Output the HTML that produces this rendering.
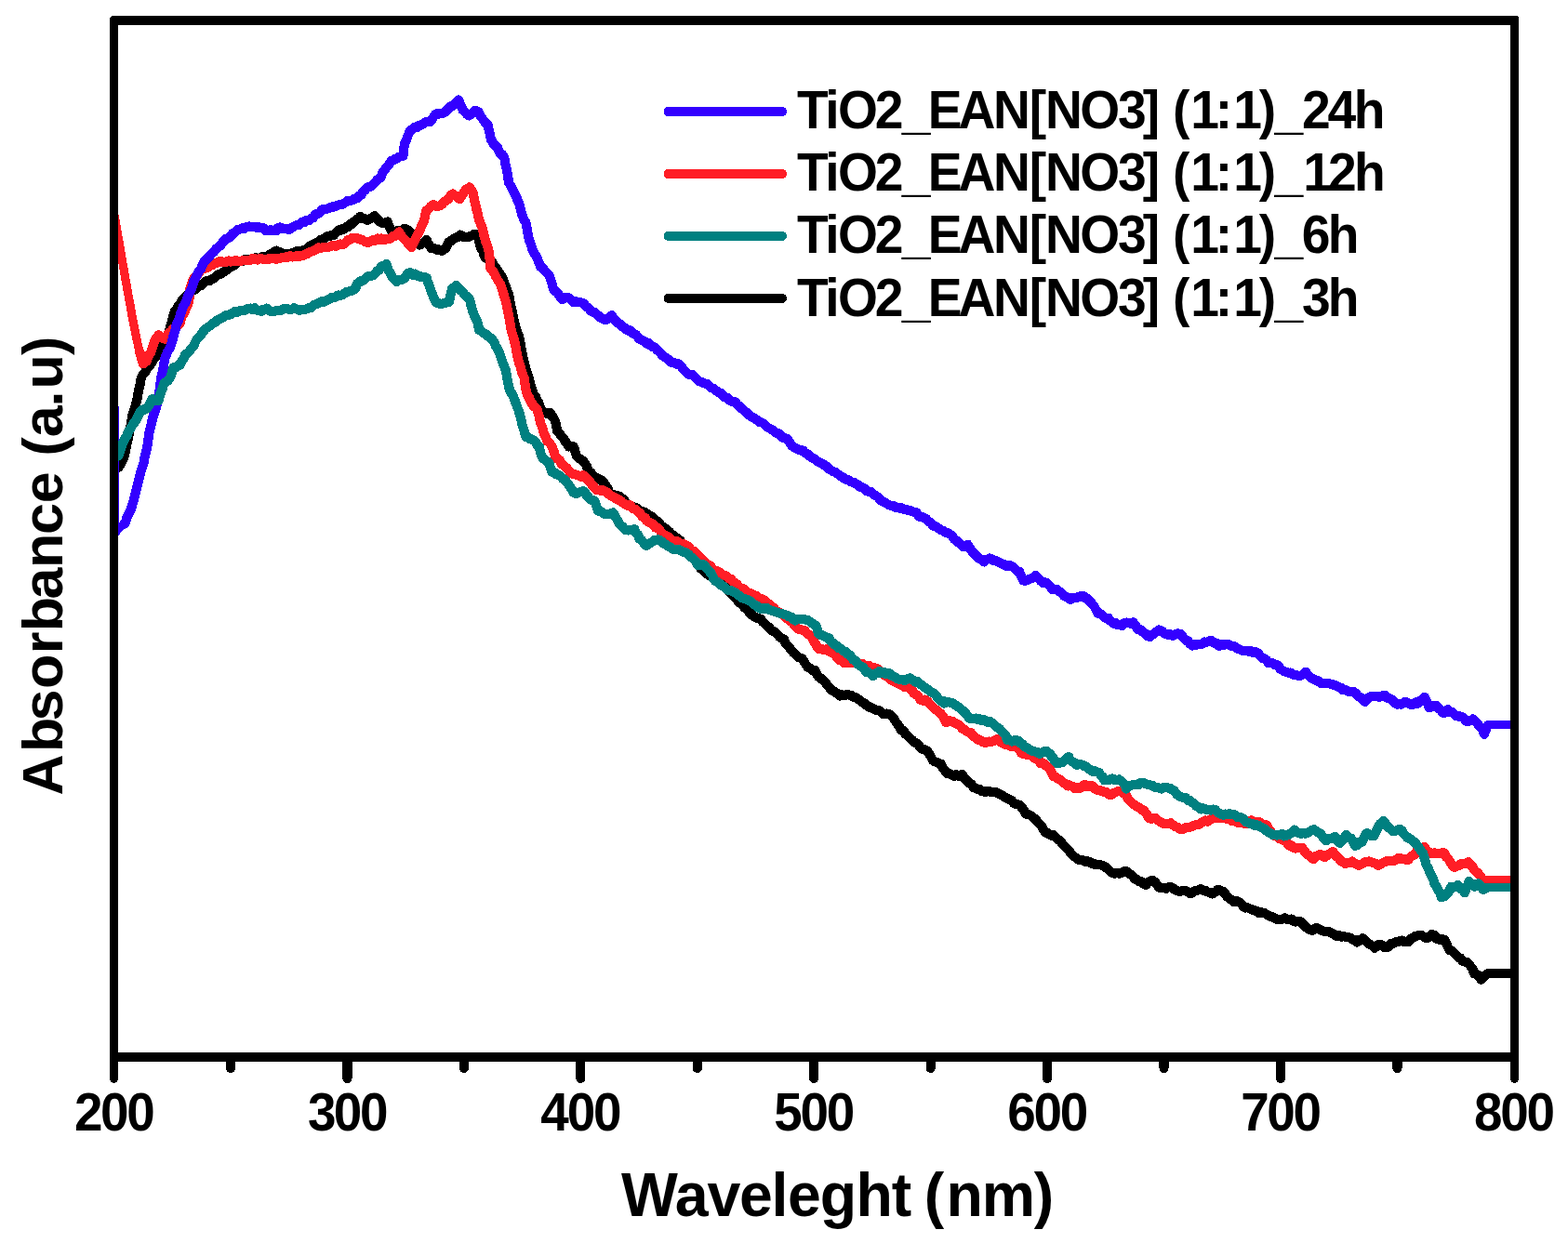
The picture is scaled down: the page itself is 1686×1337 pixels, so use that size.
<!DOCTYPE html>
<html lang="en"><head><meta charset="utf-8"><title>UV-Vis absorbance of TiO2_EAN[NO3] (1:1)</title>
<style>html,body{margin:0;padding:0;background:#fff}body{width:1686px;height:1337px;overflow:hidden}svg{display:block}text{white-space:pre;font-family:"Liberation Sans",sans-serif;font-weight:bold;font-size:100px;font-kerning:none}</style></head><body>
<svg width="1686" height="1337" viewBox="0 0 1686 1337">
<rect width="1686" height="1337" fill="#fff"/>
<defs><clipPath id="plot"><rect x="122" y="22" width="1507" height="1115"/></clipPath></defs>
<g clip-path="url(#plot)" shape-rendering="crispEdges"><g transform="scale(1.0,1)">
<polyline points="120.9,505.4 123.1,504.7 125.8,503.8 127.4,502.7 129.4,500.1 131.6,495.9 133.2,491.8 135.1,484.8 136.4,477.3 138.8,467.2 140.6,457.2 142.3,447.0 144.7,439.3 147.3,430.7 148.8,421.0 150.4,414.7 151.7,406.8 153.5,403.0 156.4,400.4 157.7,396.8 160.4,394.1 162.8,390.8 164.8,386.4 167.9,383.9 170.1,379.7 172.6,375.8 174.6,371.2 176.6,368.6 178.9,362.4 181.2,358.8 182.8,352.5 185.2,344.8 186.8,338.3 188.1,334.7 190.0,332.2 191.9,329.1 194.1,326.3 196.7,321.7 198.7,320.6 201.0,317.7 203.3,316.8 205.7,313.4 207.9,312.4 210.0,311.1 212.1,309.0 213.6,307.7 216.1,307.3 218.2,305.2 220.6,303.1 222.6,302.1 225.0,302.2 226.5,301.2 229.3,299.5 231.2,298.6 233.2,296.3 235.8,295.0 238.0,294.6 239.9,292.9 242.6,291.3 244.8,289.5 246.5,287.7 249.0,286.9 249.9,285.8 252.4,284.9 254.6,282.8 256.9,281.2 259.8,281.4 261.8,279.7 264.2,278.7 266.8,279.4 269.2,278.6 271.4,278.3 273.8,277.5 275.8,277.4 278.2,278.1 280.8,277.0 283.1,275.9 285.5,276.6 287.8,275.3 290.6,273.3 292.6,272.6 294.5,271.1 297.1,269.6 298.7,270.7 301.4,271.3 303.3,273.3 304.9,273.4 306.7,273.3 309.5,272.8 311.8,273.2 314.1,272.3 316.6,272.0 318.9,270.3 321.3,270.2 323.8,270.3 325.8,269.3 328.2,268.6 330.6,267.0 332.7,264.8 335.4,263.5 337.8,262.7 340.1,261.1 342.1,260.1 344.2,258.2 346.4,258.6 348.1,257.0 350.5,254.9 353.1,253.8 355.0,253.9 356.6,252.9 358.8,253.2 360.4,251.0 362.0,249.4 364.0,247.5 365.8,248.0 368.3,245.8 370.3,246.5 372.4,243.9 374.6,243.9 376.3,240.9 378.2,241.1 381.0,238.1 383.4,236.1 385.3,235.3 387.4,232.8 390.1,235.3 392.2,235.2 395.1,237.0 396.9,235.5 398.5,235.2 401.2,233.6 402.8,232.1 405.5,235.2 407.6,238.0 409.6,239.3 412.4,240.1 414.4,239.8 416.5,238.5 418.6,244.1 421.2,249.0 422.9,249.4 425.4,249.0 427.5,247.8 429.8,248.3 432.3,247.7 434.2,246.2 435.8,246.2 438.1,247.0 439.8,248.0 442.1,250.6 444.6,254.1 446.5,257.1 448.8,260.9 451.1,263.5 453.2,262.5 455.7,260.5 458.7,257.9 459.8,260.8 461.6,263.5 463.9,267.3 465.1,266.4 467.2,267.2 468.9,268.6 471.1,268.0 473.0,269.2 475.0,269.9 476.8,268.9 479.1,267.0 480.9,263.7 483.0,259.9 484.7,259.3 487.0,257.4 488.3,256.7 490.9,255.4 493.0,254.8 494.6,252.6 496.8,253.3 498.7,255.0 501.3,255.3 503.7,255.1 505.8,254.0 507.8,253.2 509.6,252.0 511.9,253.1 513.7,252.3 515.1,259.4 516.9,266.5 519.2,269.7 520.5,274.7 522.1,277.4 524.5,278.9 527.1,280.7 529.5,282.2 531.2,285.5 534.0,289.0 536.2,292.4 538.3,295.4 540.4,298.8 542.1,304.1 543.7,307.3 545.6,313.5 547.1,317.1 548.8,326.8 550.8,335.5 552.4,344.1 554.2,351.1 556.2,357.2 558.0,361.3 559.9,371.1 561.4,379.7 563.5,389.0 564.8,394.5 566.9,401.2 568.7,407.1 570.2,413.1 572.5,420.3 573.8,424.7 576.1,426.6 577.7,430.9 579.3,433.3 581.3,438.9 583.2,443.0 585.5,443.7 587.4,444.6 590.0,444.5 592.0,444.3 593.3,447.5 595.3,449.5 597.2,453.3 599.1,463.3 601.6,466.3 603.4,469.0 606.4,471.9 607.9,475.5 609.4,476.5 611.4,480.4 613.4,479.9 614.8,480.4 616.8,480.5 618.2,484.4 619.7,490.1 622.0,492.6 624.7,494.0 627.2,496.2 629.1,498.5 630.9,501.6 632.9,507.3 635.4,508.1 637.7,511.8 639.7,513.4 642.2,514.4 645.0,515.8 646.9,516.6 649.6,519.7 651.5,522.3 653.8,526.2 655.6,531.8 657.4,532.1 659.7,532.0 661.8,533.5 663.8,533.3 666.2,533.9 668.1,536.1 670.8,537.2 672.6,540.6 674.5,542.2 677.0,543.5 679.1,545.4 681.4,545.4 683.3,545.7 685.6,546.8 687.3,549.3 690.2,549.7 692.0,551.2 693.9,551.2 696.1,553.2 698.5,554.9 700.3,555.4 702.3,556.7 704.9,559.8 707.0,560.9 709.3,563.3 710.8,565.1 713.5,567.4 715.4,568.4 717.9,570.5 719.8,571.9 721.6,573.9 724.4,576.2 726.5,577.9 728.7,579.4 731.1,581.2 732.9,583.3 735.7,586.7 738.0,588.8 740.0,592.2 742.0,593.6 744.6,597.8 746.8,601.4 748.8,604.5 751.6,608.1 753.4,611.3 755.9,613.1 758.3,615.3 760.5,617.6 762.7,619.3 764.7,620.1 767.5,621.3 770.1,622.6 772.0,625.0 775.1,625.9 777.4,629.1 779.6,631.9 782.7,633.2 785.0,637.4 787.6,639.7 789.7,641.7 792.5,644.9 794.5,648.0 796.9,649.5 799.3,651.3 800.8,653.9 803.7,655.8 805.4,658.4 806.7,659.9 808.9,661.8 810.8,663.0 813.4,664.6 815.2,664.7 818.0,665.8 820.0,668.9 822.8,671.0 824.8,673.4 826.7,674.6 829.4,677.8 831.6,678.9 833.9,680.3 835.5,681.7 838.0,684.8 840.3,686.6 842.7,687.2 844.7,691.9 847.5,695.1 849.9,697.9 851.4,699.8 853.2,702.1 855.4,703.7 857.0,705.7 859.5,707.5 861.8,708.0 863.8,710.0 865.9,713.9 867.5,716.3 869.5,718.4 871.4,718.8 873.7,721.3 876.1,721.0 877.8,724.1 879.9,727.9 882.3,729.4 884.7,731.5 887.4,733.6 889.4,736.7 891.7,739.3 893.9,742.4 896.7,743.6 898.5,745.0 901.2,746.4 903.3,748.5 905.5,747.4 908.4,747.9 910.9,746.8 913.5,747.8 915.4,747.7 917.6,749.7 919.9,750.0 922.0,751.7 924.8,753.1 926.7,755.4 929.2,756.2 930.9,758.3 933.4,759.5 935.4,761.2 937.6,761.4 940.4,763.2 942.5,764.3 944.6,763.9 947.2,765.8 949.2,768.0 951.4,768.4 953.7,767.6 956.0,768.1 958.2,769.8 960.3,771.5 962.2,774.6 963.9,777.6 965.4,779.1 967.2,782.1 969.2,785.5 971.7,786.1 973.5,789.7 976.0,791.2 978.6,794.1 980.9,796.1 983.0,798.2 986.0,799.5 987.9,801.6 990.7,805.6 993.0,805.9 995.2,806.7 997.4,808.1 999.4,811.2 1000.7,813.4 1003.0,817.9 1004.8,819.2 1007.2,819.9 1009.2,820.9 1011.9,821.7 1013.9,826.0 1016.2,829.3 1018.8,832.2 1021.5,832.3 1023.4,833.6 1026.3,834.9 1028.2,833.1 1030.7,834.9 1032.3,833.7 1035.0,833.1 1037.0,836.8 1038.3,838.4 1040.1,840.1 1042.6,842.8 1044.7,843.7 1047.0,847.3 1048.8,847.5 1050.6,848.6 1052.8,848.6 1055.4,851.0 1057.6,851.5 1059.7,851.8 1062.2,850.7 1064.8,851.6 1066.5,851.8 1069.6,851.8 1071.7,852.7 1073.8,853.7 1075.8,854.4 1078.3,856.0 1080.4,857.3 1082.7,858.4 1085.4,860.0 1087.9,860.9 1090.4,864.3 1092.5,864.9 1095.0,865.5 1097.5,866.6 1098.6,868.8 1100.7,870.9 1102.3,874.5 1104.6,876.2 1107.1,876.5 1109.4,877.8 1111.1,879.6 1113.9,881.5 1115.8,884.4 1118.9,887.3 1120.1,888.7 1122.0,892.5 1124.1,895.6 1125.9,895.4 1128.1,897.5 1130.3,898.7 1132.6,898.1 1134.8,900.6 1137.8,903.2 1140.3,904.6 1141.5,906.5 1143.6,909.1 1144.9,910.5 1147.8,913.1 1149.8,915.3 1152.2,918.8 1154.6,921.1 1157.0,922.7 1159.8,924.6 1161.5,925.0 1164.5,925.4 1166.4,926.8 1168.7,926.2 1171.2,926.8 1173.2,928.7 1175.5,928.5 1177.8,930.1 1180.0,929.9 1183.0,930.3 1185.0,930.6 1187.7,931.8 1190.1,934.0 1192.4,935.9 1194.6,938.4 1196.6,939.0 1198.9,939.6 1200.9,939.0 1203.6,939.8 1205.7,938.8 1208.3,937.4 1210.5,937.0 1213.0,938.5 1215.4,940.4 1217.5,941.9 1220.0,945.4 1222.4,946.0 1224.7,948.0 1227.2,948.2 1229.2,950.5 1232.2,951.8 1234.4,949.3 1237.0,947.7 1239.2,946.7 1241.7,948.6 1243.7,951.2 1246.3,954.7 1247.9,954.6 1249.3,954.8 1251.7,955.0 1253.7,955.8 1256.4,954.2 1258.8,954.3 1260.9,955.0 1263.1,956.9 1266.0,958.3 1267.9,958.9 1270.3,958.4 1272.6,958.3 1274.5,958.0 1277.1,959.1 1279.5,961.0 1282.0,960.7 1283.9,958.6 1286.7,957.9 1288.5,957.4 1291.5,956.2 1293.6,957.7 1296.2,957.9 1298.0,959.3 1300.6,959.7 1303.5,961.4 1305.3,960.3 1307.1,959.5 1309.3,956.8 1311.0,957.0 1313.1,958.7 1315.4,959.1 1317.6,961.6 1319.7,964.6 1322.0,966.6 1324.6,967.9 1326.8,970.0 1329.3,968.7 1331.6,970.0 1333.7,971.3 1335.1,972.4 1337.1,975.6 1339.1,976.5 1341.3,976.2 1343.9,977.5 1346.5,978.5 1348.9,979.5 1351.1,979.6 1353.1,981.9 1355.8,981.2 1358.3,981.7 1359.8,982.3 1362.5,983.9 1365.1,985.6 1367.1,985.6 1369.8,987.4 1372.1,988.3 1374.0,989.2 1377.1,989.1 1379.4,988.3 1381.8,987.4 1383.8,988.7 1385.9,989.4 1388.7,988.6 1390.5,990.6 1393.0,991.6 1395.4,990.7 1397.5,991.8 1399.1,991.4 1401.4,994.5 1403.9,997.1 1406.3,998.7 1408.2,999.8 1411.1,1001.0 1413.1,999.5 1414.9,998.4 1416.8,998.3 1419.1,999.6 1421.0,1000.6 1423.2,1001.6 1426.0,1002.2 1428.2,1001.8 1430.2,1002.8 1433.0,1004.1 1435.5,1005.8 1437.7,1007.3 1440.2,1006.2 1442.5,1007.7 1444.6,1007.1 1447.1,1007.7 1449.7,1008.0 1451.9,1008.7 1454.5,1010.7 1457.0,1010.7 1459.0,1013.4 1461.1,1012.2 1463.2,1010.9 1465.3,1009.2 1467.5,1011.0 1469.2,1012.9 1471.7,1014.9 1473.5,1016.1 1475.8,1017.5 1477.9,1019.7 1479.9,1018.5 1481.5,1016.3 1483.8,1015.6 1486.3,1016.6 1488.7,1019.1 1490.7,1019.3 1493.1,1018.1 1495.6,1014.9 1498.2,1014.6 1500.4,1013.5 1502.9,1013.3 1505.7,1011.8 1507.7,1011.6 1509.9,1013.2 1512.3,1013.3 1514.0,1013.2 1516.0,1011.0 1517.6,1009.3 1519.7,1008.3 1521.8,1006.8 1523.9,1006.5 1526.8,1005.6 1528.8,1006.3 1531.0,1007.6 1533.5,1009.2 1536.2,1008.2 1537.6,1007.2 1539.7,1004.9 1542.4,1006.1 1543.9,1009.5 1546.2,1009.4 1548.3,1010.9 1550.9,1010.3 1553.5,1011.1 1555.1,1014.8 1556.5,1018.0 1558.6,1022.2 1561.0,1022.7 1563.6,1024.8 1565.9,1027.7 1568.1,1029.8 1570.5,1030.6 1572.6,1033.8 1575.0,1034.5 1577.3,1034.7 1580.3,1037.7 1581.8,1040.4 1583.5,1042.4 1585.0,1047.3 1587.7,1047.9 1590.1,1049.9 1592.4,1053.7 1595.3,1050.8 1597.3,1048.8" fill="none" stroke="#000000" stroke-width="10.2" stroke-linejoin="round" stroke-linecap="round"/>
<polyline points="1597.3,1048.8 1599.6,1046.9 1602.1,1046.9 1604.6,1046.9 1607.1,1046.9 1609.6,1046.9 1612.1,1046.9 1614.6,1046.9 1617.1,1046.9 1619.6,1046.9 1622.1,1046.9 1624.6,1046.9" fill="none" stroke="#000000" stroke-width="9.2" stroke-linejoin="round" stroke-linecap="round"/>
<polyline points="120.5,217.2 122.7,230.0 125.0,242.9 127.2,255.7 129.7,269.9 132.1,284.0 134.6,298.2 137.0,311.9 139.5,325.5 141.9,339.2 144.1,350.1 146.3,361.0 148.5,371.9 150.4,379.1" fill="none" stroke="#ff1e26" stroke-width="9.2" stroke-linejoin="round" stroke-linecap="round"/>
<polyline points="150.4,379.1 151.7,384.1 154.0,391.3 155.6,388.5 157.5,388.6 159.7,382.7 162.2,379.2 164.3,372.6 166.5,365.7 168.9,363.3 170.6,360.3 172.9,362.2 175.7,364.3 177.4,364.7 179.2,365.1 181.3,358.0 183.4,357.2 186.3,353.6 188.2,353.0 190.1,350.8 192.2,349.0 193.5,347.5 195.5,340.9 198.5,335.9 200.4,330.5 202.5,326.1 204.1,318.8 204.5,309.7 207.3,302.1 208.5,298.8 210.8,296.9 212.8,295.5 214.5,292.4 217.0,289.3 219.1,289.1 221.3,287.2 223.8,287.7 225.8,285.3 228.2,285.1 230.2,283.5 232.1,283.4 234.5,281.7 237.1,281.0 239.2,281.8 241.3,281.9 243.6,281.5 245.7,280.5 247.6,281.5 249.8,281.1 252.5,280.5 254.5,280.4 257.4,281.4 259.9,280.6 261.8,279.7 264.6,279.7 266.9,279.8 269.0,279.9 271.1,278.2 274.1,278.2 276.5,279.5 278.9,278.4 280.5,277.9 283.0,278.8 285.8,279.0 288.0,278.4 290.0,278.5 293.0,278.0 295.1,277.6 297.1,278.8 300.1,277.7 302.5,277.5 304.3,276.9 306.9,276.5 309.2,276.8 312.0,275.1 314.3,276.5 316.4,276.3 319.1,275.1 321.5,275.9 323.5,274.8 325.7,274.9 328.1,273.5 330.4,273.2 333.1,271.1 335.8,270.2 337.9,269.2 339.7,268.6 342.6,266.3 344.7,267.1 346.9,266.3 349.8,266.0 351.9,265.8 354.3,265.4 356.5,264.4 358.9,264.2 360.9,264.8 363.6,263.5 365.6,262.5 368.1,263.2 370.0,262.1 371.6,260.8 374.3,257.9 375.9,258.1 378.0,256.3 380.4,256.1 383.2,255.8 385.0,257.0 387.6,257.5 389.9,258.3 392.7,260.1 394.5,260.7 397.0,260.5 399.7,259.1 402.3,257.8 403.7,258.6 405.8,256.5 408.2,257.9 409.8,256.5 411.7,257.8 413.9,257.1 415.4,257.5 417.8,256.9 420.1,256.5 422.8,253.8 425.2,253.8 426.7,252.5 429.2,249.4 431.0,253.0 433.2,255.8 434.9,257.3 437.7,260.2 439.7,263.0 442.4,266.0 444.0,262.3 446.2,258.2 447.6,254.9 449.3,251.7 451.5,248.1 452.9,243.7 455.1,239.8 456.5,235.5 458.0,227.0 460.9,224.7 463.0,222.2 465.8,220.1 468.1,221.3 469.9,222.2 472.2,221.5 475.1,220.0 477.5,216.9 479.6,216.2 482.4,213.5 484.5,210.6 486.6,208.6 489.5,210.7 491.4,210.9 494.2,214.2 495.5,211.5 497.8,209.0 499.0,206.8 501.1,203.8 502.7,202.8 504.8,201.5 506.7,203.9 508.8,208.3 510.1,214.7 511.9,223.2 513.7,230.0 515.1,236.6 517.2,241.7 518.7,245.8 520.3,252.7 522.3,260.0 524.4,265.6 526.1,272.6 527.5,288.7 529.9,291.6 531.3,293.5 532.9,296.9 535.1,301.1 536.9,303.8 538.5,306.8 540.1,311.8 541.9,317.8 544.5,326.7 546.4,336.2 548.0,344.0 549.3,353.2 550.7,358.7 552.5,364.4 554.1,370.9 555.9,381.0 557.9,390.0 559.8,394.9 561.3,400.8 563.7,406.7 564.9,416.4 567.1,425.0 568.7,427.2 570.8,432.6 572.6,434.4 574.2,437.6 576.1,438.6 577.6,440.6 579.6,447.7 581.3,455.5 583.1,459.4 584.5,465.1 586.8,470.3 588.7,474.8 591.0,476.4 593.3,480.0 595.4,485.2 597.1,490.6 599.2,493.5 602.0,494.9 603.8,499.1 606.0,500.6 608.9,503.0 611.1,505.4 612.9,508.0 615.9,509.9 617.8,510.3 620.4,511.0 622.3,511.5 624.7,512.6 627.0,511.0 629.2,512.7 631.4,515.6 634.6,518.5 636.5,521.7 639.3,524.5 641.1,526.8 643.9,526.6 645.8,527.9 648.2,527.1 650.5,528.3 652.0,529.1 654.5,531.4 656.7,533.1 659.1,534.2 661.1,535.2 663.4,537.4 665.2,537.4 667.2,538.4 669.5,540.7 671.9,542.2 673.9,543.5 676.1,542.9 677.8,543.8 680.3,546.8 682.5,547.6 684.6,549.0 686.7,550.9 688.9,552.8 690.9,555.9 693.8,556.9 695.4,560.4 697.7,561.4 700.3,563.0 702.7,564.1 704.5,567.5 706.5,567.4 709.3,569.9 710.9,572.4 713.2,574.7 715.2,575.5 717.6,576.9 719.8,578.3 721.7,580.8 723.9,581.8 726.3,582.9 728.6,582.4 730.6,584.6 732.2,584.6 735.0,585.2 737.0,586.4 739.6,587.4 741.7,589.8 744.0,592.4 746.3,592.8 748.0,594.8 750.0,597.0 752.7,599.1 754.6,601.1 757.0,604.0 759.1,605.5 761.3,608.4 763.6,608.3 765.7,611.5 767.4,612.9 769.8,614.2 772.5,614.6 774.9,616.8 776.9,618.6 779.7,619.3 781.4,619.6 783.5,622.1 785.7,622.7 788.4,625.9 790.2,626.7 792.7,628.7 794.3,630.7 796.3,633.1 798.7,632.9 800.7,634.2 803.4,637.0 805.0,638.6 807.0,638.0 809.6,639.4 811.9,640.9 813.6,641.2 816.1,643.4 818.4,643.9 820.6,644.9 822.8,646.3 825.0,648.6 827.0,649.7 829.4,652.0 831.8,653.6 833.6,656.0 835.8,657.8 838.2,658.5 840.5,660.1 842.6,662.0 844.8,664.4 846.8,665.7 849.6,668.1 851.6,668.9 853.9,671.9 856.0,674.7 858.2,676.7 860.7,677.3 863.0,677.6 865.6,678.5 867.8,681.5 870.6,683.0 873.0,684.9 874.5,688.6 876.5,691.9 878.0,694.8 879.9,697.7 881.9,697.4 884.1,698.2 886.1,699.4 888.9,698.3 890.7,700.4 892.6,701.2 895.1,702.4 897.6,703.6 899.4,706.5 901.3,708.0 903.0,710.1 904.9,710.2 907.6,712.9 909.7,713.0 912.1,712.9 914.5,712.7 916.2,712.7 918.9,713.0 920.7,711.4 923.5,713.3 925.0,713.8 927.4,713.9 929.6,715.7 932.1,715.9 934.3,715.6 936.2,717.6 939.1,718.1 940.6,718.5 943.0,719.1 945.1,721.2 947.9,723.6 950.0,725.5 952.2,726.9 954.0,727.7 956.8,729.9 958.6,731.8 960.9,732.1 962.8,733.7 964.9,735.0 967.2,736.0 969.2,736.8 971.9,738.6 973.9,739.4 976.4,739.2 978.4,740.6 980.8,742.4 982.9,745.9 985.2,747.4 986.8,748.0 988.9,751.5 990.0,753.0 992.8,753.6 994.9,752.6 997.1,754.2 999.1,756.5 1001.0,758.7 1003.2,760.5 1005.0,762.6 1007.4,763.8 1009.8,766.4 1011.9,767.9 1013.2,769.6 1014.9,772.2 1017.2,777.1 1019.7,776.0 1021.5,775.3 1024.5,776.1 1026.8,777.6 1028.6,778.5 1031.6,780.3 1032.9,781.5 1034.5,783.6 1036.4,784.4 1038.7,786.3 1041.1,787.6 1043.9,787.9 1046.0,791.4 1048.8,793.2 1051.0,795.6 1053.3,795.5 1055.3,797.0 1057.3,798.4 1059.9,798.8 1062.0,797.7 1063.5,797.6 1065.0,798.4 1067.7,797.2 1069.6,796.4 1072.2,794.9 1074.4,796.0 1075.7,798.5 1077.4,798.8 1080.1,800.4 1081.9,800.9 1084.0,800.4 1086.4,802.6 1089.0,802.4 1091.0,803.0 1093.4,803.9 1095.8,805.6 1098.2,810.1 1100.7,811.2 1103.1,811.2 1105.1,812.4 1107.7,811.5 1109.6,812.2 1111.8,815.4 1114.8,816.6 1117.1,818.7 1118.8,820.9 1121.5,820.6 1124.2,823.4 1126.0,824.2 1127.2,825.9 1129.5,827.8 1131.2,832.4 1133.2,835.4 1135.0,835.8 1137.6,837.6 1139.7,838.6 1141.8,840.3 1144.0,842.2 1146.5,844.1 1148.5,845.4 1149.8,844.3 1151.9,845.5 1154.0,846.0 1155.7,848.2 1158.0,847.7 1159.7,847.2 1161.7,847.7 1163.7,845.5 1166.4,844.2 1168.2,846.1 1170.4,845.1 1171.7,845.8 1174.0,845.0 1176.1,847.2 1178.6,849.4 1180.6,849.6 1182.5,850.2 1185.2,851.0 1187.1,852.1 1189.5,851.8 1192.0,854.4 1194.8,855.1 1196.7,853.4 1199.6,852.2 1201.9,851.1 1203.9,851.4 1206.3,851.8 1209.1,854.0 1211.0,855.4 1213.4,860.2 1215.5,862.0 1218.3,864.7 1220.6,866.3 1223.2,867.8 1225.2,869.0 1227.5,870.9 1230.0,871.5 1231.7,874.2 1234.0,877.1 1235.4,880.0 1238.2,880.9 1240.0,879.9 1242.6,880.1 1245.3,882.6 1247.5,883.8 1250.1,885.5 1252.2,885.6 1254.4,886.0 1256.6,885.9 1259.0,885.3 1261.5,887.6 1263.7,889.0 1266.0,889.9 1268.7,891.7 1271.1,892.2 1273.2,891.3 1275.7,890.1 1278.0,890.1 1280.1,889.6 1282.4,888.4 1285.1,887.6 1286.8,886.8 1289.7,886.7 1291.6,884.9 1294.1,883.8 1295.7,882.5 1298.4,883.6 1301.0,881.8 1302.8,880.8 1305.8,880.2 1307.6,880.4 1309.9,879.3 1312.2,880.1 1314.4,880.0 1316.8,880.3 1319.1,880.7 1321.2,880.0 1323.2,880.7 1325.0,883.0 1327.0,882.0 1329.1,883.7 1331.6,885.1 1334.2,884.5 1336.6,885.3 1338.9,886.3 1341.4,885.6 1343.7,884.6 1345.6,882.3 1348.0,883.7 1350.6,884.7 1352.4,884.3 1354.8,884.4 1357.2,886.6 1359.6,886.6 1362.3,887.8 1363.9,892.7 1366.7,894.3 1368.7,898.5 1371.0,898.5 1373.6,899.9 1375.7,902.4 1377.6,902.4 1379.9,903.9 1382.2,904.8 1384.1,907.0 1385.8,909.5 1388.1,909.2 1390.7,911.6 1393.2,912.6 1395.3,911.8 1397.9,912.1 1400.0,911.7 1401.8,914.5 1403.4,916.5 1405.6,919.2 1407.9,920.4 1410.2,922.7 1412.4,924.1 1414.4,921.2 1416.0,920.6 1418.3,919.3 1420.2,919.2 1423.0,921.5 1425.0,921.8 1427.3,919.7 1429.1,919.0 1430.8,917.5 1433.1,916.2 1435.6,919.1 1437.1,921.4 1439.4,922.9 1441.8,926.1 1444.1,927.4 1446.8,929.0 1448.8,927.6 1451.4,928.2 1454.0,926.6 1456.3,928.4 1458.7,929.5 1460.8,930.8 1463.1,930.0 1465.8,928.6 1468.2,926.9 1470.1,927.4 1472.3,926.5 1475.3,927.7 1477.1,928.4 1479.7,928.8 1481.9,930.8 1484.8,929.2 1487.3,927.8 1489.2,927.2 1492.0,925.6 1494.1,925.9 1496.6,925.8 1498.6,926.1 1501.3,924.8 1503.6,922.8 1505.9,923.2 1507.6,924.4 1509.8,924.1 1512.8,925.1 1514.8,924.3 1516.8,921.5 1519.7,920.0 1521.0,919.1 1522.9,916.3 1525.1,914.6 1526.8,912.9 1529.2,912.2 1531.3,911.1 1533.1,913.4 1534.9,915.2 1537.1,917.2 1539.7,918.0 1542.4,917.3 1544.5,918.1 1547.0,918.2 1548.8,917.8 1551.9,917.1 1553.4,918.3 1555.0,921.9 1557.0,923.2 1559.5,927.6 1561.3,930.4 1563.7,932.8 1566.1,931.7 1569.1,930.9 1571.1,929.1 1572.9,928.7 1575.5,928.6 1576.8,929.3 1579.0,927.2 1581.3,930.7 1583.3,931.9 1585.0,935.3 1586.9,937.6 1589.1,938.6 1590.8,941.2 1592.6,943.8 1594.5,946.9 1595.9,947.5 1597.9,946.6" fill="none" stroke="#ff1e26" stroke-width="10.2" stroke-linejoin="round" stroke-linecap="round"/>
<polyline points="1597.9,946.6 1599.6,946.5 1602.1,946.5 1604.6,946.5 1607.1,946.5 1609.6,946.5 1612.1,946.5 1614.6,946.5 1617.1,946.5 1619.6,946.5 1622.1,946.5 1624.6,946.5" fill="none" stroke="#ff1e26" stroke-width="9.2" stroke-linejoin="round" stroke-linecap="round"/>
<polyline points="123.1,438.0 123.1,573.5 125.4,571.1 127.7,568.6 130.0,566.2 132.7,564.3" fill="none" stroke="#3300ff" stroke-width="9.2" stroke-linejoin="round" stroke-linecap="round"/>
<polyline points="132.7,564.3 134.9,561.9 136.4,556.5 138.7,552.1 140.9,547.5 143.2,539.9 145.4,531.5 147.5,523.2 149.7,514.4 151.5,506.7 154.5,498.1 155.7,490.3 158.0,482.8 159.3,473.7 160.2,466.4 162.4,457.2 164.3,449.2 166.2,443.4 167.6,439.5 169.7,430.8 171.6,419.6 173.2,406.7 175.5,396.3 177.3,385.6 179.9,379.0 182.8,374.0 185.1,367.1 186.4,361.9 188.4,355.3 189.7,349.6 192.6,342.8 194.6,336.1 197.2,329.4 200.0,324.6 201.9,319.0 204.4,313.4 206.4,309.9 207.8,304.5 209.8,299.7 211.6,296.2 213.6,292.0 216.1,289.2 218.4,283.5 220.2,280.5 222.4,278.8 224.9,276.3 227.4,272.8 230.0,271.0 232.4,267.7 234.3,266.0 237.1,264.1 239.1,261.1 240.8,259.2 243.0,256.8 245.3,256.2 247.6,254.8 249.8,251.3 251.7,250.9 254.0,248.4 255.9,246.7 258.3,246.5 261.0,245.2 263.0,245.7 265.8,243.7 268.0,243.5 270.6,244.3 272.3,244.0 274.3,243.6 276.7,245.0 278.8,244.4 281.2,244.9 283.8,245.4 285.7,248.1 288.2,248.2 290.8,247.2 292.6,247.7 295.4,248.1 297.0,248.2 298.6,245.1 300.7,244.5 302.4,245.4 305.0,245.6 306.9,245.9 309.1,246.6 311.0,246.8 313.3,245.4 316.4,243.4 318.3,242.3 321.1,242.1 323.3,240.4 325.5,238.5 327.8,238.9 329.8,236.7 331.9,237.4 334.4,235.2 336.8,234.3 339.0,230.5 341.9,230.0 344.6,228.2 346.5,225.1 349.0,224.9 352.1,224.5 354.6,223.6 356.6,222.6 359.6,222.5 361.6,221.3 364.3,220.4 367.0,220.3 369.0,219.2 372.1,217.3 373.9,215.9 376.3,216.0 379.1,215.1 381.3,213.6 384.4,213.4 386.4,210.2 388.5,209.6 390.7,205.6 392.7,204.4 394.7,201.4 397.0,201.3 399.5,199.9 401.7,197.7 403.6,196.1 405.8,193.2 407.3,192.1 409.4,190.9 411.3,185.6 414.0,182.1 416.4,179.2 418.8,176.3 420.7,172.8 423.0,172.1 424.2,171.3 426.3,170.6 428.9,168.7 431.0,168.4 433.5,167.7 434.9,154.4 437.2,149.9 438.9,145.2 440.8,141.1 442.0,140.1 444.4,138.0 445.6,136.7 448.0,137.1 449.3,135.2 451.4,135.0 452.9,134.4 454.6,133.4 456.9,131.9 458.3,131.1 460.0,130.7 462.1,131.4 464.6,128.6 466.4,125.2 468.7,122.4 471.4,122.6 474.0,122.0 476.0,122.0 477.9,121.1 480.0,119.1 481.7,116.5 483.0,116.3 485.1,114.0 486.5,114.0 488.9,112.1 490.7,110.5 492.9,107.5 495.5,113.0 497.6,118.5 499.9,120.1 502.0,122.9 504.5,124.4 506.9,122.6 508.6,121.7 511.0,118.9 512.5,119.2 514.7,120.5 516.2,124.4 517.8,126.2 519.8,129.1 522.2,132.3 524.5,134.4 526.2,141.9 527.9,150.2 529.3,152.2 531.0,155.1 533.3,157.4 535.2,159.2 536.4,162.7 538.4,165.9 540.4,166.5 542.4,169.9 543.6,177.4 546.0,187.8 547.0,196.5 549.5,200.4 550.8,203.1 552.8,206.9 554.6,210.2 556.5,215.3 558.2,219.0 559.6,224.7 561.2,230.6 563.1,235.5 565.3,239.4 566.6,245.8 568.8,257.9 570.8,262.9 572.6,268.8 574.4,272.5 575.8,274.1 577.5,277.1 579.5,282.5 581.4,287.4 583.7,288.1 585.8,291.3 588.0,293.5 590.0,295.7 592.0,299.9 593.8,306.1 595.2,311.5 598.0,313.9 599.9,315.2 602.2,319.2 604.0,321.8 605.8,321.7 607.7,319.7 609.9,319.6 611.9,320.4 614.2,322.5 616.6,325.2 618.8,324.0 621.3,325.4 623.3,324.7 625.4,325.6 627.8,326.5 630.6,330.3 633.0,331.4 634.9,334.4 637.3,335.6 639.3,335.6 641.3,338.1 643.8,339.7 645.7,341.6 648.1,343.0 650.5,344.1 652.8,343.5 655.5,341.8 657.8,339.1 660.0,343.5 662.3,345.2 664.9,347.8 667.2,349.0 669.7,351.8 671.8,352.5 673.6,354.6 676.1,355.9 678.0,355.4 679.7,358.1 682.2,359.4 684.2,360.3 687.0,364.2 689.3,365.6 691.5,366.2 693.2,367.1 695.5,369.7 697.8,369.1 700.0,371.9 701.6,373.1 704.3,373.6 706.7,376.8 708.0,377.3 710.9,380.7 712.3,382.4 714.9,383.9 717.3,385.9 718.9,386.8 721.4,389.6 723.2,390.1 725.7,390.5 727.6,391.7 730.0,391.4 732.7,394.4 734.7,397.3 737.6,400.4 739.4,402.0 741.9,403.3 744.7,403.0 746.4,404.9 749.4,407.6 751.4,409.9 753.4,410.6 756.0,411.9 758.4,412.7 760.0,412.7 762.8,415.2 764.6,417.1 766.9,417.6 769.2,419.6 771.4,421.0 773.1,422.7 775.7,422.9 777.6,425.8 779.2,427.4 781.9,427.8 783.7,430.0 786.1,431.2 788.5,432.5 791.0,432.4 793.2,436.0 795.3,437.0 797.4,439.7 799.2,440.7 801.7,442.8 803.4,444.1 806.1,447.1 807.8,448.1 809.9,449.2 812.2,450.6 814.5,452.2 816.4,453.9 819.1,454.4 820.6,455.4 823.2,457.8 825.4,459.7 827.9,461.0 829.8,462.0 832.1,463.4 834.2,465.6 836.6,465.9 838.8,467.5 841.3,470.5 843.3,470.9 845.8,471.8 847.6,473.3 850.1,477.6 852.0,480.0 854.9,482.0 857.2,482.7 859.1,484.1 861.5,484.6 863.4,484.4 865.6,487.0 867.9,487.9 869.7,489.6 871.9,491.7 874.5,492.9 876.8,494.2 878.9,496.2 880.7,497.2 882.9,498.1 885.2,499.2 887.1,501.0 889.0,501.7 891.2,504.3 893.9,505.9 895.7,507.0 898.1,507.9 900.3,509.6 902.0,510.5 904.6,512.5 906.0,513.1 907.7,514.8 909.2,515.5 911.5,515.7 913.7,517.4 915.3,518.4 917.9,518.8 920.2,520.4 922.1,521.0 924.3,523.7 926.6,524.1 929.2,525.3 931.6,528.0 934.2,528.7 936.4,528.7 939.1,531.5 941.1,533.1 943.9,534.4 945.7,536.7 948.0,538.9 950.7,540.1 952.6,541.2 954.4,542.2 956.9,543.6 959.2,544.1 961.6,544.4 963.3,546.3 966.1,546.1 967.8,546.6 970.2,546.5 972.6,548.0 974.7,548.0 976.7,548.9 978.9,549.3 981.2,550.3 983.8,550.9 985.2,551.1 987.4,554.6 988.6,555.7 991.1,555.7 993.9,557.3 995.7,557.9 998.6,561.0 1001.1,562.6 1003.5,565.8 1005.8,566.2 1007.8,567.3 1010.2,569.1 1012.4,570.4 1014.1,570.7 1016.2,572.4 1019.1,573.3 1020.8,574.2 1023.8,576.2 1026.2,580.0 1028.0,581.2 1030.9,583.8 1032.9,585.5 1035.3,587.8 1037.0,587.8 1038.7,586.7 1040.8,585.9 1042.7,589.2 1043.9,591.2 1045.9,594.2 1048.4,596.4 1050.5,598.7 1052.9,600.7 1054.7,601.5 1056.6,603.0 1058.2,604.3 1060.3,602.1 1063.0,601.3 1064.4,600.5 1067.0,601.5 1068.4,603.3 1070.9,602.9 1072.4,604.1 1074.9,605.2 1077.2,606.7 1079.9,607.3 1082.3,609.2 1084.5,608.2 1086.5,608.3 1089.1,609.8 1090.8,611.6 1093.8,614.0 1096.1,614.8 1098.2,620.1 1100.3,624.5 1102.6,624.6 1104.8,623.9 1106.2,623.0 1109.3,622.3 1111.3,621.0 1113.6,619.1 1115.3,621.0 1117.2,622.6 1118.8,624.7 1121.2,626.7 1124.0,626.5 1125.8,627.3 1128.2,629.5 1129.7,631.3 1131.3,634.0 1134.1,634.3 1136.1,633.8 1138.4,635.6 1140.4,637.2 1142.1,638.4 1144.2,641.1 1146.2,641.8 1149.0,643.6 1151.2,644.9 1153.5,642.9 1155.4,642.8 1158.1,642.6 1160.9,641.8 1162.8,640.7 1165.6,641.4 1167.4,643.8 1170.1,644.3 1171.6,646.7 1173.9,649.1 1175.7,651.0 1177.2,653.3 1178.9,656.7 1180.4,659.9 1182.9,660.2 1184.9,661.2 1187.4,663.8 1189.6,665.0 1191.8,664.7 1193.1,667.4 1194.5,667.7 1197.3,670.6 1199.4,670.0 1201.9,672.4 1203.5,672.2 1206.4,673.0 1208.5,670.5 1211.3,669.6 1213.1,669.7 1215.9,670.8 1218.4,669.4 1220.2,672.1 1222.0,674.2 1223.2,676.9 1225.6,676.8 1228.0,679.1 1230.5,680.7 1232.7,682.4 1234.4,684.5 1236.9,684.8 1239.0,682.9 1241.1,681.2 1243.6,679.5 1246.0,677.5 1247.4,677.7 1249.7,678.8 1251.9,681.5 1253.6,681.5 1256.2,683.0 1258.3,682.1 1260.7,683.9 1262.6,682.7 1264.6,681.9 1266.8,681.4 1268.7,681.7 1270.9,683.7 1272.7,686.0 1275.2,688.9 1277.5,689.5 1279.4,692.5 1282.0,694.4 1284.5,692.8 1286.4,693.6 1288.9,693.1 1291.3,693.1 1293.1,692.3 1295.0,690.4 1296.3,690.7 1298.4,690.5 1300.5,689.4 1302.6,689.1 1304.8,690.7 1306.3,692.1 1308.8,692.2 1310.9,694.9 1313.0,693.3 1314.7,694.1 1317.3,693.2 1319.3,692.6 1321.9,693.9 1324.4,694.8 1326.3,695.1 1328.5,696.1 1330.9,697.7 1332.8,698.4 1335.4,699.7 1338.3,700.2 1340.3,699.7 1342.5,700.7 1345.2,700.1 1347.6,701.9 1349.5,700.7 1352.2,702.3 1354.6,704.8 1357.1,707.8 1359.0,708.1 1362.0,710.0 1364.0,713.3 1366.4,713.4 1368.3,713.1 1370.6,715.0 1373.3,715.2 1374.9,716.5 1376.8,719.8 1378.3,720.6 1380.6,721.9 1383.1,722.9 1385.5,723.7 1387.7,723.6 1390.6,725.8 1392.9,725.6 1394.9,726.6 1397.2,727.3 1399.6,726.3 1401.4,725.1 1403.8,722.7 1406.3,725.9 1408.5,728.1 1410.3,729.3 1412.5,730.5 1415.0,732.0 1417.4,732.2 1419.3,734.1 1421.4,735.4 1424.0,734.7 1427.0,735.3 1428.8,735.3 1431.6,735.7 1434.2,736.9 1436.3,737.2 1438.1,738.5 1440.3,739.6 1442.9,740.1 1444.4,742.4 1447.0,742.0 1449.2,743.5 1450.9,743.7 1453.4,744.1 1455.1,744.0 1457.9,745.5 1460.0,748.8 1462.8,750.2 1464.7,751.4 1466.5,754.3 1467.9,754.7 1469.7,752.9 1471.5,750.5 1473.6,749.3 1475.5,749.0 1477.8,748.7 1479.6,748.7 1482.3,749.7 1484.8,749.3 1487.1,748.0 1489.5,747.9 1492.0,750.9 1493.8,751.2 1496.0,752.1 1498.3,754.1 1500.2,756.4 1502.7,757.7 1504.8,757.1 1506.4,757.6 1508.7,756.7 1510.4,755.1 1512.7,755.4 1515.3,756.8 1517.9,758.2 1520.0,757.4 1522.3,755.4 1524.7,756.6 1526.9,753.6 1529.3,752.7 1531.9,749.9 1534.3,755.2 1536.7,761.1 1538.8,760.7 1540.8,759.4 1542.5,759.7 1544.8,759.2 1546.2,762.0 1548.6,763.0 1550.5,765.7 1552.3,767.1 1554.5,766.1 1556.8,763.1 1559.1,765.8 1561.3,766.0 1563.4,768.0 1566.0,770.3 1568.4,770.5 1570.2,770.5 1572.8,771.3 1574.7,773.4 1576.5,775.5 1578.6,776.1 1580.2,775.3 1581.7,774.9 1583.8,773.5 1585.8,775.2 1588.7,778.2 1590.8,781.4 1592.8,782.9 1594.4,785.6 1595.9,789.7 1597.9,784.7" fill="none" stroke="#3300ff" stroke-width="10.2" stroke-linejoin="round" stroke-linecap="round"/>
<polyline points="1597.9,784.7 1599.6,779.8 1601.9,779.7 1604.1,779.6 1606.3,779.5 1608.6,779.4 1610.8,779.4 1613.1,779.4 1615.4,779.4 1617.7,779.4 1620.0,779.4 1622.3,779.4 1624.6,779.4" fill="none" stroke="#3300ff" stroke-width="9.2" stroke-linejoin="round" stroke-linecap="round"/>
<polyline points="120.8,495.1 122.4,493.1 124.8,491.6 127.2,490.3 129.5,484.4 131.2,478.1 133.6,472.8 136.3,469.1 138.2,463.5 140.7,460.5 143.0,456.0 145.7,453.1 147.4,449.8 149.5,445.9 151.2,442.5 153.4,440.6 155.4,440.9 158.3,438.9 160.2,435.9 161.4,433.4 163.8,429.0 165.6,430.6 167.9,430.6 170.6,430.8 171.9,424.9 174.3,419.3 176.0,413.2 178.2,411.0 180.8,409.2 182.8,406.5 184.6,402.1 186.2,395.5 188.8,395.4 191.3,393.1 193.9,392.4 195.6,388.2 197.6,386.1 198.7,382.0 201.8,379.6 203.6,377.7 206.1,374.5 207.9,372.7 209.6,368.8 211.3,365.4 214.2,362.4 216.2,359.8 218.5,356.6 220.8,353.9 223.8,351.7 226.5,350.2 228.7,347.8 231.4,346.6 233.4,344.4 235.3,343.3 237.5,342.8 239.6,341.5 241.8,340.0 244.0,338.8 246.3,338.6 248.4,337.9 250.5,336.6 252.3,335.0 254.7,335.8 256.8,334.6 258.7,334.4 261.1,334.0 262.9,333.8 265.4,332.3 267.6,332.3 269.6,331.6 271.3,333.0 273.9,331.2 275.8,333.4 278.1,334.2 281.2,334.7 283.1,332.8 284.8,332.7 286.6,331.6 288.7,333.6 290.8,334.6 293.7,335.0 295.5,334.6 297.3,334.3 300.0,333.6 301.7,334.1 304.1,332.5 306.4,332.0 309.4,332.4 311.2,332.7 314.4,332.5 316.2,331.3 318.3,332.3 320.1,332.8 322.1,333.9 323.9,333.0 327.0,333.1 329.0,332.5 331.2,331.5 333.7,331.3 335.3,330.2 337.9,327.9 339.4,327.4 342.0,326.2 344.3,324.9 345.9,324.3 347.9,324.8 350.5,323.7 352.7,322.5 354.8,321.4 357.1,319.6 359.4,320.0 361.5,318.9 363.6,317.5 365.7,317.8 368.0,317.2 370.5,315.4 373.0,313.8 376.0,313.4 378.1,312.7 380.8,311.5 382.8,309.0 383.9,305.1 386.4,303.5 388.2,301.9 390.7,301.7 392.7,300.1 394.9,297.4 397.1,297.4 399.8,296.6 401.7,295.8 404.2,293.3 405.9,291.0 407.9,290.3 409.6,287.2 411.7,285.9 414.0,285.6 415.5,284.0 417.3,289.9 418.9,292.7 421.1,296.7 422.9,299.5 424.2,300.1 426.3,303.2 428.8,301.4 430.7,301.2 433.3,300.4 435.1,299.1 436.9,296.2 438.4,293.9 441.0,293.2 443.8,295.8 446.2,294.6 447.7,295.6 449.5,297.3 451.3,297.5 453.7,297.6 456.0,297.9 458.7,298.8 460.1,303.8 462.1,308.3 463.7,313.6 465.4,317.8 466.9,321.2 469.2,325.8 471.1,325.8 473.6,326.9 476.0,326.4 478.4,326.2 481.2,324.6 483.0,324.9 484.4,317.4 486.1,310.3 488.2,309.9 490.4,306.9 492.5,309.0 495.1,312.2 497.3,313.9 500.0,317.5 502.1,318.9 504.9,321.7 506.2,327.4 508.1,334.5 510.3,340.2 512.6,344.5 514.1,349.2 515.2,355.3 517.7,356.1 520.0,358.4 522.4,359.4 524.3,361.5 526.2,362.7 528.9,364.5 531.7,368.6 533.0,372.6 534.9,375.0 537.0,379.2 539.2,385.7 541.1,391.6 543.8,398.1 545.5,407.9 547.6,417.9 548.9,421.6 550.7,423.9 552.6,428.2 554.7,433.9 556.2,438.0 557.7,441.7 560.1,450.1 561.7,457.5 563.6,463.6 565.5,469.8 567.3,469.9 569.2,471.8 572.1,472.6 574.2,473.7 576.0,475.8 577.8,478.9 579.7,479.9 581.1,486.5 582.6,491.5 585.7,494.5 587.8,496.0 590.4,497.8 591.6,502.6 593.8,508.0 596.2,508.3 597.9,510.2 600.3,511.0 602.2,511.8 605.2,515.0 607.3,515.8 609.6,518.9 611.8,521.9 614.4,525.6 616.8,529.9 618.2,530.4 619.8,531.1 622.4,529.6 625.1,528.7 627.3,528.3 629.0,529.7 630.6,532.8 632.7,534.7 634.9,537.6 637.6,537.7 639.9,540.0 641.1,544.0 643.0,549.5 645.5,549.9 648.2,551.4 649.9,552.9 652.5,552.7 654.8,552.9 657.3,552.3 659.3,551.5 661.3,555.2 662.9,557.8 664.8,561.3 666.9,564.5 669.5,566.6 672.0,569.8 673.7,569.7 675.6,570.5 677.9,569.9 680.3,569.8 682.3,569.3 684.2,573.9 686.1,575.1 687.6,579.7 690.0,581.1 692.5,584.5 695.1,586.9 697.1,584.7 699.4,583.9 702.1,582.4 703.5,580.8 705.1,581.0 707.2,580.4 709.7,581.1 711.8,582.6 713.7,584.8 716.5,585.9 718.4,587.7 720.0,588.2 722.3,589.7 724.6,590.9 727.1,591.0 728.9,591.2 731.2,591.6 733.8,593.5 735.7,593.7 737.7,594.4 740.4,596.4 742.5,599.1 745.0,600.2 746.6,602.3 748.4,604.3 749.8,607.6 752.0,608.3 754.6,607.3 757.1,607.4 759.9,611.5 762.0,613.4 764.5,616.6 766.1,619.1 767.4,623.1 769.6,625.5 771.7,626.0 774.1,627.9 776.0,630.0 778.3,630.8 780.5,633.1 782.3,634.5 784.6,634.8 786.7,635.5 788.9,636.9 791.6,638.2 793.8,640.0 796.0,641.2 797.8,643.2 800.2,643.8 802.6,644.8 804.6,645.4 806.6,646.6 809.1,648.6 810.9,650.5 813.4,651.5 815.6,653.7 818.0,654.9 820.6,654.0 822.2,655.2 824.8,654.1 827.2,656.2 828.9,656.4 831.4,657.3 833.5,658.2 836.1,658.8 838.4,659.7 840.8,660.0 843.7,661.1 846.4,661.8 848.2,663.5 850.5,663.5 852.8,666.1 854.7,667.5 857.2,666.1 859.6,666.1 861.4,666.4 863.7,665.8 866.1,666.5 868.4,667.0 870.7,668.4 872.7,669.9 875.0,671.3 876.7,672.6 877.8,673.8 879.9,681.1 882.4,683.2 884.6,683.4 887.0,684.5 888.7,685.8 891.4,686.4 893.2,689.5 895.2,691.3 898.2,694.2 899.8,694.4 902.0,697.3 904.4,698.0 906.4,699.9 909.0,700.9 911.3,703.5 913.7,704.5 915.5,706.9 917.6,709.8 920.4,710.8 922.2,714.3 924.2,715.7 927.3,717.1 929.4,719.8 931.4,722.9 933.6,723.1 936.2,724.8 938.8,727.2 941.0,724.5 943.8,723.6 945.8,721.8 948.0,724.1 950.2,722.8 952.2,724.7 955.1,723.8 957.0,724.7 959.0,727.1 961.2,727.8 963.4,729.2 965.8,730.5 968.4,730.7 970.7,731.5 972.9,732.0 975.4,730.5 978.2,729.3 980.5,731.2 982.7,731.8 984.7,733.8 987.0,733.3 989.3,735.8 991.3,737.1 993.1,738.4 995.7,740.4 998.3,742.1 1000.2,743.4 1002.6,745.4 1004.8,746.0 1006.7,748.0 1008.0,750.5 1010.1,752.6 1012.1,754.5 1013.8,753.9 1015.1,756.6 1017.6,755.6 1019.8,755.2 1022.2,755.7 1025.1,756.8 1027.4,758.5 1029.7,759.9 1032.2,761.9 1034.5,763.7 1037.0,765.9 1038.4,767.2 1040.4,769.9 1041.9,772.5 1044.2,773.1 1046.6,772.7 1049.5,772.6 1051.3,774.1 1053.6,773.4 1056.0,775.2 1058.2,774.3 1060.3,776.2 1062.4,776.9 1065.0,776.3 1067.3,778.0 1070.3,780.8 1072.2,782.3 1074.9,784.0 1077.4,787.2 1079.3,788.9 1081.6,791.6 1082.8,795.7 1085.1,796.3 1086.2,796.2 1088.0,797.6 1090.4,796.3 1091.6,796.5 1093.7,796.4 1095.6,797.2 1096.9,799.1 1099.3,800.1 1101.4,803.3 1103.7,804.0 1106.0,805.6 1108.7,806.9 1110.5,808.0 1112.9,808.5 1115.3,808.9 1116.7,810.1 1118.2,811.0 1120.8,809.3 1123.6,807.9 1125.5,808.0 1127.6,809.7 1129.2,811.2 1130.7,813.9 1132.5,815.6 1134.2,818.4 1136.3,821.1 1137.9,821.1 1140.2,820.2 1142.1,820.2 1144.1,818.3 1146.5,816.3 1149.1,814.0 1149.8,815.9 1152.4,818.8 1154.9,819.9 1157.4,822.6 1159.6,822.4 1161.8,822.3 1163.5,822.6 1165.9,824.4 1167.9,824.5 1170.4,827.1 1172.3,827.9 1174.9,829.8 1177.5,829.2 1179.6,830.4 1182.1,831.0 1183.7,834.6 1185.5,835.4 1187.5,839.4 1190.0,839.2 1192.0,839.0 1194.1,838.3 1196.3,837.5 1198.7,839.1 1201.1,839.2 1203.1,838.4 1205.2,840.0 1207.0,841.6 1209.7,844.3 1211.0,848.5 1213.5,846.3 1215.4,845.1 1217.7,844.2 1219.3,843.7 1221.7,843.7 1224.1,844.1 1225.9,842.1 1228.4,842.3 1230.4,842.4 1232.4,843.5 1235.4,843.7 1237.4,844.7 1239.8,845.2 1241.6,846.7 1244.4,846.7 1246.5,847.7 1249.0,848.6 1251.1,847.3 1253.7,847.1 1256.3,847.5 1258.4,847.8 1260.2,849.5 1262.5,850.4 1265.1,854.1 1267.8,856.3 1269.6,857.3 1272.0,857.7 1274.7,857.7 1276.8,860.7 1279.3,861.0 1281.5,863.1 1283.8,864.2 1286.4,867.3 1289.1,868.4 1291.2,870.4 1293.0,869.3 1295.7,870.0 1298.1,871.1 1300.0,870.8 1302.2,871.5 1304.2,870.6 1306.9,871.0 1309.2,873.7 1311.5,875.1 1313.2,875.8 1315.5,876.8 1317.3,875.6 1319.4,876.4 1321.5,875.5 1323.9,875.6 1325.9,875.8 1328.1,876.9 1330.2,878.8 1332.6,878.7 1334.7,879.4 1336.7,880.5 1339.5,884.3 1342.1,884.7 1344.4,886.2 1346.6,886.2 1348.6,887.8 1350.4,887.1 1353.2,887.8 1355.5,889.7 1357.6,890.3 1360.1,891.9 1362.1,893.9 1364.2,895.5 1366.9,896.5 1368.7,898.0 1371.5,898.4 1373.6,898.4 1375.9,897.9 1378.7,897.2 1380.6,899.4 1382.9,898.5 1384.8,898.5 1385.7,897.2 1388.0,896.1 1389.4,894.9 1391.7,892.5 1393.6,895.3 1396.3,895.8 1398.7,896.8 1400.9,895.9 1403.4,896.6 1405.5,895.9 1407.9,894.7 1410.7,893.0 1412.9,892.3 1414.8,893.5 1417.5,895.5 1419.9,896.6 1422.2,900.3 1424.3,902.1 1426.1,904.4 1428.1,902.2 1430.6,902.2 1432.9,901.7 1435.3,899.9 1437.0,901.8 1438.9,905.6 1441.1,906.8 1443.2,904.3 1445.1,902.1 1447.5,897.9 1449.5,900.3 1450.8,901.1 1452.8,901.6 1455.3,906.2 1457.3,909.8 1459.8,908.9 1461.6,905.7 1464.6,905.7 1466.1,902.1 1468.1,898.1 1469.9,896.1 1472.0,897.9 1474.5,899.2 1477.2,899.1 1478.6,896.4 1480.4,892.9 1482.3,888.7 1484.1,886.0 1485.8,884.6 1487.5,882.8 1489.2,885.0 1491.2,887.8 1492.5,890.2 1494.5,891.0 1496.2,892.4 1498.1,894.2 1500.3,893.7 1502.6,892.9 1505.3,891.7 1507.3,893.3 1508.9,896.6 1511.0,898.3 1513.2,901.1 1515.0,901.3 1517.6,903.4 1520.3,905.2 1522.1,907.1 1524.6,910.1 1526.4,912.9 1528.6,916.2 1530.3,918.1 1532.1,924.6 1533.9,930.9 1535.6,933.4 1537.6,938.6 1538.8,941.0 1540.8,944.9 1542.4,950.2 1544.5,953.7 1546.3,957.4 1548.3,960.2 1549.8,965.0 1551.4,964.7 1553.6,964.0 1555.3,962.5 1557.3,960.1 1558.5,957.5 1560.3,953.8 1562.9,954.5 1565.6,953.2 1567.6,952.1 1570.2,955.8 1572.1,956.2 1574.9,960.3 1577.3,954.3 1579.5,947.8 1581.1,950.1 1583.7,952.7 1585.4,953.6 1587.7,951.0 1589.5,950.3 1592.1,953.0 1594.6,956.8 1595.8,956.4 1597.9,955.4" fill="none" stroke="#008080" stroke-width="10.2" stroke-linejoin="round" stroke-linecap="round"/>
<polyline points="1597.9,955.4 1599.6,954.8 1602.1,954.8 1604.6,954.8 1607.1,954.8 1609.6,954.8 1612.1,954.8 1614.6,954.8 1617.1,954.8 1619.6,954.8 1622.1,954.8 1624.6,954.8" fill="none" stroke="#008080" stroke-width="9.2" stroke-linejoin="round" stroke-linecap="round"/>
</g></g>
<g fill="#000" shape-rendering="crispEdges">
<path d="M120,17 L1631,17 L1633,19 L1633,27 L118,27 L118,19 Z"/>
<rect x="118" y="1132" width="1515" height="10"/>
</g>
<g stroke="#000" fill="none" stroke-linecap="round" shape-rendering="crispEdges">
<line x1="122.5" y1="22.0" x2="122.5" y2="1160.5" stroke-width="9"/>
<line x1="1628.5" y1="22.0" x2="1628.5" y2="1160.5" stroke-width="9"/>
<line x1="373.44" y1="1137.0" x2="373.44" y2="1159.90" stroke-width="10.2"/>
<line x1="624.32" y1="1137.0" x2="624.32" y2="1159.90" stroke-width="10.2"/>
<line x1="875.20" y1="1137.0" x2="875.20" y2="1159.90" stroke-width="10.2"/>
<line x1="1126.08" y1="1137.0" x2="1126.08" y2="1159.90" stroke-width="10.2"/>
<line x1="1376.96" y1="1137.0" x2="1376.96" y2="1159.90" stroke-width="10.2"/>
<line x1="248.00" y1="1137.0" x2="248.00" y2="1148.90" stroke-width="10.2"/>
<line x1="498.88" y1="1137.0" x2="498.88" y2="1148.90" stroke-width="10.2"/>
<line x1="749.76" y1="1137.0" x2="749.76" y2="1148.90" stroke-width="10.2"/>
<line x1="1000.64" y1="1137.0" x2="1000.64" y2="1148.90" stroke-width="10.2"/>
<line x1="1251.52" y1="1137.0" x2="1251.52" y2="1148.90" stroke-width="10.2"/>
<line x1="1502.40" y1="1137.0" x2="1502.40" y2="1148.90" stroke-width="10.2"/>
</g>
<text transform="translate(81.96,1215.70) scale(0.5480,0.5800)" x="-3.8 47.4 98.9" y="0" fill="#000">200</text>
<text transform="translate(332.84,1215.70) scale(0.5480,0.5800)" x="-3.4 47.4 98.9" y="0" fill="#000">300</text>
<text transform="translate(583.72,1215.70) scale(0.5480,0.5800)" x="-4.6 47.4 98.9" y="0" fill="#000">400</text>
<text transform="translate(834.60,1215.70) scale(0.5480,0.5800)" x="-4.2 47.4 98.9" y="0" fill="#000">500</text>
<text transform="translate(1085.48,1215.70) scale(0.5480,0.5800)" x="-4.1 47.4 98.9" y="0" fill="#000">600</text>
<text transform="translate(1336.36,1215.70) scale(0.5480,0.5800)" x="-4.0 47.4 98.9" y="0" fill="#000">700</text>
<text transform="translate(1587.24,1215.70) scale(0.5480,0.5800)" x="-4.1 47.4 98.9" y="0" fill="#000">800</text>
<g shape-rendering="crispEdges" stroke-linecap="round" stroke-width="10" fill="none">
<line x1="718.5" y1="120.00" x2="841.0" y2="120.00" stroke="#3300ff"/>
<line x1="718.5" y1="186.95" x2="841.0" y2="186.95" stroke="#ff1e26"/>
<line x1="718.5" y1="253.90" x2="841.0" y2="253.90" stroke="#008080"/>
<line x1="718.5" y1="320.85" x2="841.0" y2="320.85" stroke="#000000"/>
</g>
<text transform="translate(857.80,138.00) scale(0.5520,0.5820)" x="-1.6 53.5 78.3 150.3 202.8 253.7 313.0 381.0 450.9 482.3 549.7 623.5 672.1 702.8 730.5 765.5 813.4 848.8 898.5 928.9 982.2 1032.2 1083.4" y="0" fill="#000">TiO2_EAN[NO3] (1:1)_24h</text>
<text transform="translate(857.80,204.90) scale(0.5520,0.5820)" x="-1.6 53.5 78.3 150.3 202.8 253.7 313.0 381.0 450.9 482.3 549.7 623.5 672.1 702.8 730.5 765.5 813.4 848.8 898.5 928.9 984.7 1032.8 1083.6" y="0" fill="#000">TiO2_EAN[NO3] (1:1)_12h</text>
<text transform="translate(857.80,271.90) scale(0.5520,0.5820)" x="-1.6 53.5 78.3 150.3 202.8 253.7 313.0 381.0 450.9 482.3 549.7 623.5 672.1 702.8 730.5 765.5 813.4 848.8 898.5 928.9 982.0 1032.7" y="0" fill="#000">TiO2_EAN[NO3] (1:1)_6h</text>
<text transform="translate(857.80,339.50) scale(0.5520,0.5820)" x="-1.6 53.5 78.3 150.3 202.8 253.7 313.0 381.0 450.9 482.3 549.7 623.5 672.1 702.8 730.5 765.5 813.4 848.8 898.5 928.9 982.4 1032.7" y="0" fill="#000">TiO2_EAN[NO3] (1:1)_3h</text>
<text transform="translate(668.10,1307.90) scale(0.6450,0.6750)" x="0.0 89.5 143.4 196.6 250.2 277.2 331.3 391.5 450.8 481.4 504.7 541.8 601.1 688.0" y="0" fill="#000">Waveleght (nm)</text>
<text transform="translate(67.00,854.00) rotate(-90) scale(0.6100,0.6200)" x="-2.3 73.8 128.7 185.1 247.3 286.5 343.3 398.4 457.4 512.7 563.9 595.8 629.2 682.9 713.8 773.7" y="0" fill="#000">Absorbance (a.u)</text>
</svg></body></html>
